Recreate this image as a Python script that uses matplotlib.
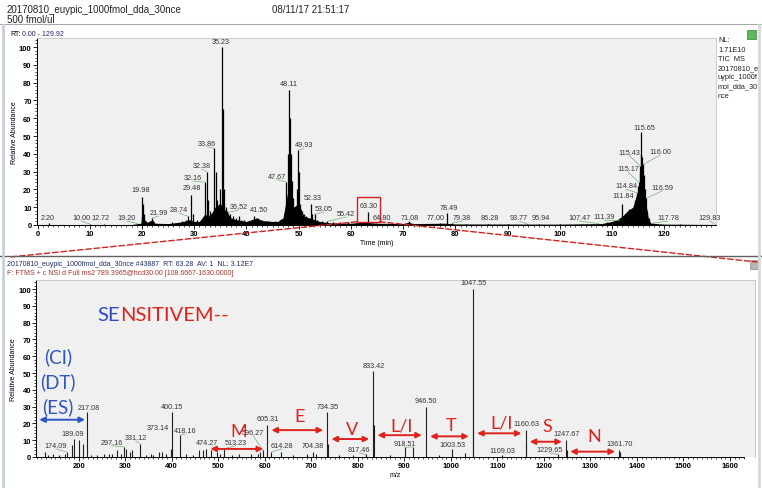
import numpy as np
import matplotlib
matplotlib.use('Agg')
import matplotlib.pyplot as plt
from matplotlib.patches import Rectangle, ConnectionPatch, FancyArrowPatch
from matplotlib.lines import Line2D
from matplotlib.ticker import MultipleLocator, FixedLocator

W, H = 762, 489

# ---------------- TIC chromatogram (top) ----------------
rt_t = [2.20, 10.00, 12.72, 19.20, 19.98, 20.2, 20.4, 21.99, 22.2, 25.8, 27.6, 28.4, 28.74, 29.48, 29.7,
        30.5, 31.2, 32.16, 32.38, 32.6, 33.0, 33.3, 33.86, 34.1, 34.4, 34.7, 35.0, 35.23, 35.45, 35.7,
        36.0, 36.3, 36.52, 36.9, 37.4, 38.0, 38.5, 39.0, 39.6, 40.5, 41.50, 42.0, 43.0, 44.2, 45.5,
        46.5, 47.3, 47.67, 47.9, 48.11, 48.3, 48.5, 48.7, 49.0, 49.4, 49.7, 49.93, 50.1, 50.3, 50.7,
        51.0, 51.5, 52.0, 52.33, 52.6, 53.05, 53.5, 54.5, 55.42, 56.5, 58.0, 59.5, 61.0, 62.5, 63.30,
        64.80, 66.0, 68.0, 71.08, 73.0, 75.0, 77.00, 78.49, 79.38, 82.0, 86.28, 90.0, 93.77, 95.94, 100.0,
        104.0, 107.47, 109.0, 110.5, 111.39, 111.84, 112.2, 112.6, 113.0, 113.3, 113.6, 113.9, 114.2, 114.5, 114.84,
        115.0, 115.17, 115.3, 115.43, 115.55, 115.65, 115.8, 116.00, 116.2, 116.4, 116.59, 116.8, 117.1, 117.78, 123.0,
        129.83]
rt_i = [1.0, 0.6, 0.6, 0.8, 16, 12, 6, 4, 2.5, 1.5, 2.5, 3, 5, 17, 6,
        3, 2, 24, 30, 14, 8, 6, 43, 30, 14, 12, 20, 100, 65, 20,
        10, 8, 7, 6, 5, 4, 5, 3, 3, 2, 5, 4, 3, 2.5, 2,
        3, 6, 24, 40, 76, 60, 40, 25, 15, 10, 20, 42, 30, 12, 8,
        6, 5, 4, 12, 6, 6, 3, 2, 2, 1.5, 1.5, 1.8, 1, 1.5, 7.5,
        1, 0.8, 0.7, 2, 0.6, 0.8, 1, 7, 1, 0.6, 0.7, 0.5, 0.6, 0.6, 0.5,
        0.6, 0.8, 1.5, 2.5, 3, 12, 5, 4, 7, 9, 8, 7, 10, 14, 18,
        22, 24, 30, 33, 40, 52, 38, 34, 28, 20, 15, 8, 4, 1, 0.4,
        0.4]
# low envelope under the sticks
env_t = [0, 5, 18, 19.8, 20, 20.5, 21, 22, 22.5, 25, 27, 28, 29, 30, 31, 32, 33, 34, 35, 36, 37, 38, 39,
         40, 41, 42, 43, 45, 46, 47, 48, 49, 50, 51, 52, 53, 54, 56, 60, 62, 63, 65, 70, 71, 72, 78, 80,
         100, 108, 110, 111, 112, 113, 114, 115, 116, 116.5, 117, 117.5, 120, 129.9]
env_i = [0.3, 0.3, 0.3, 1, 8, 3, 1.5, 3, 1, 0.8, 1.5, 2, 3, 2, 2, 6, 5, 10, 12, 8, 4, 3, 2.5,
         2, 3, 4, 2.5, 2, 2, 4, 20, 10, 12, 5, 4, 3, 2, 1.2, 1, 1.5, 1.5, 1, 0.8, 1.5, 0.8, 1, 0.6,
         0.5, 0.8, 2, 3, 5, 8, 10, 20, 25, 12, 3, 1, 0.5, 0.3]

rt_lab = ['2.20', '10.00', '12.72', '19.20', '19.98', '21.99', '28.74', '29.48', '32.16', '32.38',
          '33.86', '35.23', '36.52', '41.50', '47.67', '48.11', '49.93', '52.33', '53.05', '55.42',
          '63.30', '64.80', '71.08', '77.00', '78.49', '79.38', '86.28', '93.77', '95.94', '107.47',
          '111.39', '111.84', '114.84', '115.17', '115.43', '115.65', '116.00', '116.59', '117.78', '129.83']
# label placement (layout)
rt_lab_x = [1.9, 8.4, 12.1, 17.1, 19.8, 23.2, 27.1, 29.5, 29.8, 31.4,
            32.5, 35.1, 38.6, 42.4, 45.9, 48.1, 51.0, 52.7, 54.8, 59.1,
            63.5, 65.9, 71.3, 76.3, 78.7, 81.3, 86.7, 92.2, 96.3, 103.7,
            108.5, 112.1, 112.8, 113.1, 113.3, 116.1, 119.2, 119.7, 120.7, 128.7]
rt_lab_y = [2.2, 2.2, 2.2, 2.2, 17.8, 5, 6.7, 19, 24.7, 31.5,
            44, 101, 8.6, 6.7, 25.5, 77.5, 43, 13.7, 7.3, 4.5,
            9, 2.4, 2.4, 2.2, 8, 2.2, 2.2, 2.2, 2.2, 2.2,
            3, 14.6, 20, 29.6, 39, 53, 39.3, 19.3, 2.2, 2.2]

# ---------------- MS2 spectrum (bottom) ----------------
mz = [127, 133, 145, 158, 170, 174.09, 186, 189.09, 201, 209, 217.08, 226, 240, 255, 265, 272, 283, 290,
      297.16, 302, 311, 315, 331.12, 344, 356, 360, 373.14, 380, 388, 398, 400.15, 418.16, 430, 445, 458,
      467, 474.27, 485, 497, 503, 513.23, 530, 545, 570, 585, 590, 596.27, 605.31, 614.28, 635, 660, 690,
      704.38, 710, 734.35, 736.35, 760, 790, 817.46, 833.42, 834.42, 870, 900.5, 918.51, 946.50, 975,
      1003.53, 1031, 1047.55, 1048.55, 1109.03, 1160.63, 1161.63, 1229.65, 1247.67, 1248.67, 1361.70, 1362.70]
ab = [3, 1, 1.5, 1, 2, 3, 7, 11, 10, 8, 27, 1, 1, 1.5, 2, 1.5, 4, 2,
      6, 5, 3, 4, 8, 1, 1.5, 1, 3, 3, 2, 5, 27, 13, 2, 1, 4,
      4, 5, 4, 3, 2, 5, 1, 1.5, 2, 2, 3, 4, 19, 3, 3, 1, 1.5,
      3, 2, 27, 8, 1, 1, 1.5, 51, 19, 1, 6, 6, 30, 1,
      5, 2.5, 100, 57, 1, 16, 8, 1.5, 10, 4, 4, 3]

ms_lab = ['174.09', '189.09', '217.08', '297.16', '331.12', '373.14', '400.15', '418.16', '474.27',
          '513.23', '596.27', '605.31', '614.28', '704.38', '734.35', '817.46', '833.42', '918.51',
          '946.50', '1003.53', '1047.55', '1109.03', '1160.63', '1229.65', '1247.67', '1361.70']
ms_lab_x = [151, 187, 221, 271, 322.6, 369.8, 400, 428.5, 475,
            537.5, 574.7, 605.5, 636.4, 703.7, 734.4, 803.2, 833.3, 901.5,
            946.5, 1004, 1048.3, 1111.5, 1161.5, 1213, 1249, 1362.2]
ms_lab_y = [4.8, 11.7, 27.6, 6.7, 9.7, 15.7, 28, 13.7, 6.7,
            6.7, 12.7, 20.6, 4.8, 4.8, 28, 2.4, 52.4, 5.8,
            31.5, 5.2, 102, 1.8, 17.7, 2.4, 11.7, 5.8]

# sequence ladder
ladder_mz = [474.27, 605.31, 734.35, 833.42, 946.50, 1047.55, 1160.63, 1247.67, 1361.70]
residues = ['M', 'E', 'V', 'L/I', 'T', 'L/I', 'S', 'N']
arrow_y = [4.8, 16, 10.7, 13, 12.3, 14.1, 9.1, 3.2]
letter_y = [15.7, 24.6, 16.7, 19, 19, 20.8, 18.3, 12.7]

RED = '#e0221c'
BLUE = '#2d55c4'

plt.rcParams['font.family'] = ['Liberation Sans', 'DejaVu Sans']

fig = plt.figure(figsize=(W / 100, H / 100), dpi=100)
fig.patch.set_facecolor('white')


def fx(x):
    return x / W


def fy(y):
    return 1 - y / H


def ftext(x, y, s, **kw):
    return fig.text(fx(x), fy(y), s, **kw)


def style_axis(ax):
    ax.set_facecolor('#f0f0f0')
    for s in ['top', 'right']:
        ax.spines[s].set_color('#c4c4c4')
        ax.spines[s].set_linewidth(0.6)
    for s in ['left', 'bottom']:
        ax.spines[s].set_color('black')
        ax.spines[s].set_linewidth(0.7)
    ax.tick_params(which='major', direction='out', length=2.6, width=0.6, labelsize=5.5, pad=1.2)
    ax.tick_params(which='minor', direction='out', length=1.5, width=0.5)
    for lab in ax.get_xticklabels() + ax.get_yticklabels():
        lab.set_fontweight('bold')
    ax.yaxis.set_major_locator(MultipleLocator(10))
    ax.yaxis.set_minor_locator(MultipleLocator(2))


def leader_labels(ax, labels, lx, ly, xs, ys, tol):
    look = dict(zip(xs, ys))
    for s, x, y in zip(labels, lx, ly):
        px = float(s)
        ax.text(x, y, s, fontsize=5.2, color='#333333', ha='center', va='bottom', zorder=4)
        if abs(x - px) > tol:
            ax.plot([x, px], [y, look[px]], color='#70b070', lw=0.5, zorder=3)


# window frames
fig.add_artist(Line2D([0, 1], [fy(25), fy(25)], color='#a8a8a8', lw=0.8))
fig.add_artist(Line2D([0, 1], [fy(257), fy(257)], color='#606060', lw=1.0))
fig.add_artist(Line2D([fx(3), fx(3)], [fy(26), 0], color='#c8d0dc', lw=2))
fig.add_artist(Line2D([fx(759), fx(759)], [fy(26), 0], color='#d8d8d8', lw=2))
fig.add_artist(Rectangle((fx(747), fy(40)), 9 / W, 9 / H, facecolor='#5cb85c', edgecolor='#3a7a3a', lw=0.5))
fig.add_artist(Rectangle((fx(750), fy(270)), 9 / W, 9 / H, facecolor='#b8b8b8', edgecolor='#888888', lw=0.5))

# headers
ftext(7, 10, '20170810_euypic_1000fmol_dda_30nce', fontsize=7, color='#222222', va='center')
ftext(272, 10, '08/11/17 21:51:17', fontsize=7, color='#222222', va='center')
ftext(7, 20, '500 fmol/ul', fontsize=7, color='#222222', va='center')
ftext(10, 34, 'RT:', fontsize=5, color='black', va='center')
ftext(22, 34, '0.00 - 129.92', fontsize=5, color='#23236a', va='center')
for i, s in enumerate(['NL:', '1.71E10', 'TIC  MS', '20170810_e', 'uypic_1000f', 'mol_dda_30', 'nce']):
    ftext(718, 41 + 9.2 * i, s, fontsize=5.3, color='#222222', va='center')
ftext(7, 264, '20170810_euypic_1000fmol_dda_30nce #43887  RT: 63.28  AV: 1  NL: 3.12E7',
      fontsize=5, color='#1f2a6b', va='center')
ftext(7, 274, 'F: FTMS + c NSI d Full ms2 789.3965@hcd30.00 [108.6667-1630.0000]',
      fontsize=5, color='#a8322a', va='center')

# ---- top axes ----
ax1 = fig.add_axes([fx(37), fy(226), (716 - 37) / W, (226 - 39) / H])
ax1.fill_between(env_t, env_i, color='black', lw=0)
ax1.vlines(rt_t, 0, rt_i, color='black', lw=0.9)
ax1.set_xlim(-0.1, 129.92)
ax1.set_ylim(0, 105.06)
ax1.xaxis.set_major_locator(MultipleLocator(10))
ax1.xaxis.set_minor_locator(MultipleLocator(1))
style_axis(ax1)
leader_labels(ax1, rt_lab, rt_lab_x, rt_lab_y, rt_t, rt_i, 0.9)
ax1.set_ylabel('Relative Abundance', fontsize=5, labelpad=1)
ax1.set_xlabel('Time (min)', fontsize=5, labelpad=1)
box = Rectangle((61.1, 1.8), 4.4, 13.8, fill=False, edgecolor='#d42020', lw=1.0, zorder=5)
ax1.add_patch(box)

# ---- bottom axes ----
ax2 = fig.add_axes([fx(36.2), fy(458), (755 - 36.2) / W, (458 - 281) / H])
ax2.vlines(mz, 0, ab, color='#202020', lw=0.8)
ax2.set_xlim(108.67, 1653.8)
ax2.set_ylim(0, 105.4)
ax2.xaxis.set_major_locator(MultipleLocator(100))
ax2.xaxis.set_minor_locator(FixedLocator(np.arange(110, 1631, 10)))
ax2.spines['bottom'].set_bounds(108.67, 1630)
style_axis(ax2)
ax2.set_xlim(108.67, 1653.8)
ax2.set_xticks(np.arange(200, 1601, 100))
for lab in ax2.get_xticklabels():
    lab.set_fontweight('bold')
leader_labels(ax2, ms_lab, ms_lab_x, ms_lab_y, mz, ab, 8)
ax2.set_ylabel('Relative Abundance', fontsize=5, labelpad=1)
ax2.set_xlabel('m/z', fontsize=5, labelpad=1)

# sequence annotations
for k, res in enumerate(residues):
    a, b = ladder_mz[k], ladder_mz[k + 1]
    ax2.add_patch(FancyArrowPatch((a, arrow_y[k]), (b, arrow_y[k]), arrowstyle='<|-|>',
                                  mutation_scale=8, color=RED, lw=1.4, shrinkA=3, shrinkB=3, zorder=6))
    ax2.text((a + b) / 2 + 4, letter_y[k], res, fontsize=13, family='Lato', color=RED,
             ha='center', va='center', zorder=7)
ax2.add_patch(FancyArrowPatch((115.3, 22.2), (213.6, 22.2), arrowstyle='<|-|>',
                              mutation_scale=8, color=BLUE, lw=1.4, shrinkA=0, shrinkB=0, zorder=6))
for s, y in zip(['(CI)', '(DT)', '(ES)'], [60.3, 45.4, 30.4]):
    ax2.text(155.5, y, s, fontsize=13.5, family='Lato', color=BLUE, ha='center', va='center', zorder=7)
t1 = ax2.text(240, 85.1, 'SE', fontsize=14.5, family='Lato', color='#3346c8', ha='left', va='center')
ax2.annotate('NSITIVEM--', xy=(1, 0.5), xycoords=t1, fontsize=14.5, family='Lato', color=RED,
             ha='left', va='center')

# zoom lines from the chromatogram box to the spectrum panel
for xa, xb, yb in [(61.1, 10, 258), (65.5, 757, 263)]:
    con = ConnectionPatch(xyA=(xa, 1.8), coordsA=ax1.transData, xyB=(fx(xb), fy(yb)),
                          coordsB=fig.transFigure, color='#d42020', lw=1.0, ls=(0, (4, 2)))
    fig.add_artist(con)

fig.savefig('out.png', dpi=100, facecolor='white')
